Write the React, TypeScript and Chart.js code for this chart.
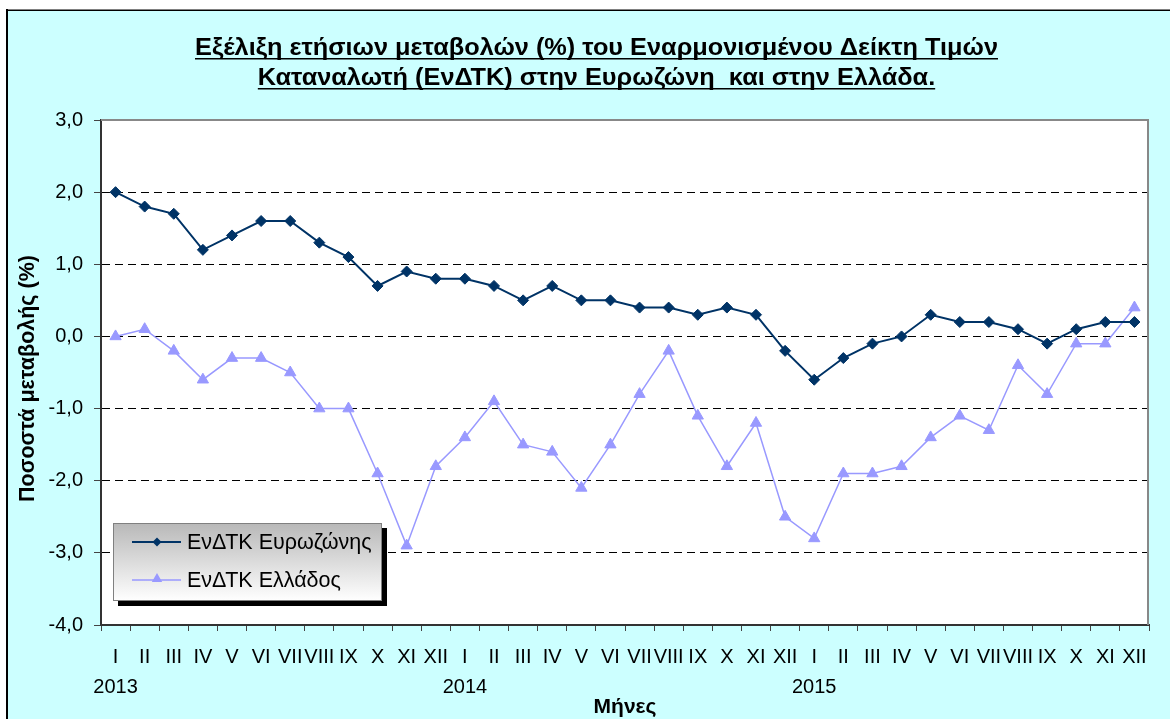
import React, { useEffect, useRef } from 'react';
import { Chart, registerables } from 'chart.js';

Chart.register(...registerables);

const monthLabels = ['I', 'II', 'III', 'IV', 'V', 'VI', 'VII', 'VIII', 'IX', 'X', 'XI', 'XII'];
const yearLabels = ['2013', '2014', '2015'];

const eurozone = [
  2.0, 1.8, 1.7, 1.2, 1.4, 1.6, 1.6, 1.3, 1.1, 0.7, 0.9, 0.8,
  0.8, 0.7, 0.5, 0.7, 0.5, 0.5, 0.4, 0.4, 0.3, 0.4, 0.3, -0.2,
  -0.6, -0.3, -0.1, 0.0, 0.3, 0.2, 0.2, 0.1, -0.1, 0.1, 0.2, 0.2,
];
const greece = [
  0.0, 0.1, -0.2, -0.6, -0.3, -0.3, -0.5, -1.0, -1.0, -1.9, -2.9, -1.8,
  -1.4, -0.9, -1.5, -1.6, -2.1, -1.5, -0.8, -0.2, -1.1, -1.8, -1.2, -2.5,
  -2.8, -1.9, -1.9, -1.8, -1.4, -1.1, -1.3, -0.4, -0.8, -0.1, -0.1, 0.4,
];

const seriesNames = ['ΕνΔΤΚ Ευρωζώνης', 'ΕνΔΤΚ Ελλάδος'];
const titleLines = [
  'Εξέλιξη ετήσιων μεταβολών (%) του Εναρμονισμένου Δείκτη Τιμών',
  'Καταναλωτή (ΕνΔΤΚ) στην Ευρωζώνη  και στην Ελλάδα.',
];
const yAxisTitle = 'Ποσοστά μεταβολής (%)';
const xAxisTitle = 'Μήνες';
const yMin = -4;
const yMax = 3;

const FONT = '"Liberation Sans", Arial, sans-serif';
const EURO_COLOR = '#003366';
const GR_COLOR = '#9999FF';

const categories: string[][] = [];
yearLabels.forEach((yr) => {
  monthLabels.forEach((m, i) => {
    categories.push([m, i === 0 ? yr : '']);
  });
});

function drawDiamond(ctx: CanvasRenderingContext2D, x: number, y: number, r: number, color: string) {
  ctx.beginPath();
  ctx.moveTo(x, y - r);
  ctx.lineTo(x + r, y);
  ctx.lineTo(x, y + r);
  ctx.lineTo(x - r, y);
  ctx.closePath();
  ctx.fillStyle = color;
  ctx.fill();
}

function drawTriangle(ctx: CanvasRenderingContext2D, x: number, y: number, r: number, color: string) {
  ctx.beginPath();
  ctx.moveTo(x, y - r);
  ctx.lineTo(x + r * 0.866, y + r / 2);
  ctx.lineTo(x - r * 0.866, y + r / 2);
  ctx.closePath();
  ctx.fillStyle = color;
  ctx.fill();
}

const decorPlugin = {
  id: 'decor',
  beforeDraw(chart: any) {
    const { ctx, width, height, chartArea: ca } = chart;
    ctx.save();
    ctx.fillStyle = '#ffffff';
    ctx.fillRect(0, 0, width, height);
    ctx.fillStyle = '#CCFFFF';
    ctx.fillRect(7, 10, width - 7, height - 10);
    ctx.fillStyle = '#808080';
    ctx.fillRect(6, 9, width - 6, 1);
    ctx.fillStyle = '#000000';
    ctx.fillRect(6, 10, width - 6, 1);
    ctx.fillRect(6, 9, 2, height - 9);
    ctx.fillStyle = '#ffffff';
    ctx.fillRect(ca.left, ca.top, ca.right - ca.left, ca.bottom - ca.top);
    ctx.restore();
  },
  beforeDatasetsDraw(chart: any) {
    const { ctx, chartArea: ca } = chart;
    ctx.save();
    ctx.strokeStyle = '#888888';
    ctx.lineWidth = 2;
    ctx.beginPath();
    ctx.moveTo(ca.left, ca.top);
    ctx.lineTo(ca.right - 1, ca.top);
    ctx.lineTo(ca.right - 1, ca.bottom);
    ctx.stroke();
    ctx.restore();
  },
  afterDraw(chart: any) {
    const { ctx, chartArea: ca } = chart;
    ctx.save();
    // Main title (bold, underlined)
    ctx.fillStyle = '#000';
    ctx.font = `bold 23px ${FONT}`;
    ctx.textBaseline = 'alphabetic';
    ctx.textAlign = 'left';
    const sx = 803 / ctx.measureText(titleLines[0]).width;
    const cx = 596.5;
    titleLines.forEach((line, i) => {
      const w = ctx.measureText(line).width * sx;
      const x0 = cx - w / 2;
      const y = 55 + i * 30;
      ctx.save();
      ctx.translate(x0, y);
      ctx.scale(sx, 1);
      ctx.fillText(line, 0, 0);
      ctx.restore();
      ctx.fillRect(x0, y + 3, w, 1.5);
    });

    // Y axis title
    ctx.save();
    ctx.translate(28, (ca.top + ca.bottom) / 2 + 6);
    ctx.rotate(-Math.PI / 2);
    ctx.textAlign = 'center';
    ctx.textBaseline = 'middle';
    ctx.font = `bold 21.5px ${FONT}`;
    ctx.fillText(yAxisTitle, 0, 0);
    ctx.restore();

    // X axis title
    ctx.textAlign = 'center';
    ctx.textBaseline = 'middle';
    ctx.font = `bold 21px ${FONT}`;
    ctx.fillText(xAxisTitle, (ca.left + ca.right) / 2, 707);

    // Legend
    const lx = ca.left + 12;
    const ly = ca.top + 403;
    const lw = 269;
    const lh = 78;
    ctx.fillStyle = '#000';
    ctx.fillRect(lx + 5, ly + 5, lw, lh);
    const grad = ctx.createLinearGradient(0, ly, 0, ly + lh);
    grad.addColorStop(0, '#b8b8b8');
    grad.addColorStop(1, '#ffffff');
    ctx.fillStyle = grad;
    ctx.fillRect(lx, ly, lw, lh);
    ctx.strokeStyle = '#808080';
    ctx.lineWidth = 1;
    ctx.strokeRect(lx + 0.5, ly + 0.5, lw - 1, lh - 1);

    const items = [
      { name: seriesNames[0], color: EURO_COLOR, kind: 'diamond', width: 2 },
      { name: seriesNames[1], color: GR_COLOR, kind: 'triangle', width: 1.5 },
    ];
    items.forEach((it, i) => {
      const y = ly + 19 + i * 38;
      ctx.strokeStyle = it.color;
      ctx.lineWidth = it.width;
      ctx.beginPath();
      ctx.moveTo(lx + 19, y);
      ctx.lineTo(lx + 68, y);
      ctx.stroke();
      if (it.kind === 'diamond') drawDiamond(ctx, lx + 44, y, 4.5, it.color);
      else drawTriangle(ctx, lx + 44, y - 1, 6, it.color);
      ctx.fillStyle = '#000';
      ctx.font = `21.5px ${FONT}`;
      ctx.textAlign = 'left';
      ctx.textBaseline = 'middle';
      ctx.fillText(it.name, lx + 74, y + 1);
    });
    ctx.restore();
  },
};

export default function App() {
  const ref = useRef<HTMLCanvasElement>(null);

  useEffect(() => {
    const canvas = ref.current;
    if (!canvas) return;
    const chart = new Chart(canvas, {
      type: 'line',
      data: {
        labels: categories,
        datasets: [
          {
            label: seriesNames[0],
            data: eurozone,
            borderColor: EURO_COLOR,
            backgroundColor: EURO_COLOR,
            borderWidth: 2,
            pointStyle: 'rectRot',
            pointRadius: 5.5,
            pointBorderWidth: 1,
            pointBackgroundColor: EURO_COLOR,
            pointBorderColor: EURO_COLOR,
            tension: 0,
          },
          {
            label: seriesNames[1],
            data: greece,
            borderColor: GR_COLOR,
            backgroundColor: GR_COLOR,
            borderWidth: 1.5,
            pointStyle: 'triangle',
            pointRadius: 6.5,
            pointBorderWidth: 1,
            pointBackgroundColor: GR_COLOR,
            pointBorderColor: GR_COLOR,
            tension: 0,
          },
        ],
      },
      options: {
        responsive: false,
        animation: false,
        devicePixelRatio: 1,
        layout: { padding: { left: 7, top: 120, right: 21, bottom: 0 } },
        plugins: {
          legend: { display: false },
          title: { display: false },
          tooltip: { enabled: false },
        },
        scales: {
          x: {
            type: 'category',
            offset: true,
            grid: {
              offset: true,
              drawOnChartArea: false,
              drawTicks: true,
              tickLength: 6,
              tickColor: '#444',
              tickWidth: 1,
            },
            border: { color: '#333', width: 2 },
            ticks: {
              autoSkip: false,
              maxRotation: 0,
              minRotation: 0,
              padding: 11,
              color: '#000',
              font: { family: FONT, size: 20, lineHeight: 30 / 20 },
            },
            afterFit: (s: any) => {
              s.height = 94;
            },
          },
          y: {
            min: yMin,
            max: yMax,
            ticks: {
              stepSize: 1,
              padding: 11,
              color: '#000',
              font: { family: FONT, size: 20 },
              callback: (v: any) => Number(v).toFixed(1).replace('.', ','),
            },
            grid: {
              color: (c: any) =>
                c.tick && (c.tick.value === yMax || c.tick.value === yMin) ? 'rgba(0,0,0,0)' : '#000',
              lineWidth: 1,
              drawTicks: true,
              tickLength: 7,
              tickColor: '#444',
              tickWidth: 1,
            },
            border: { color: '#333', width: 2, dash: [8, 5] },
            afterFit: (s: any) => {
              s.width = 94;
            },
          },
        },
      },
      plugins: [decorPlugin],
    } as any);
    return () => chart.destroy();
  }, []);

  return (
    <div style={{ position: 'fixed', left: 0, top: 0, width: 1170, height: 719 }}>
      <canvas ref={ref} width={1170} height={719} style={{ display: 'block' }} />
    </div>
  );
}
